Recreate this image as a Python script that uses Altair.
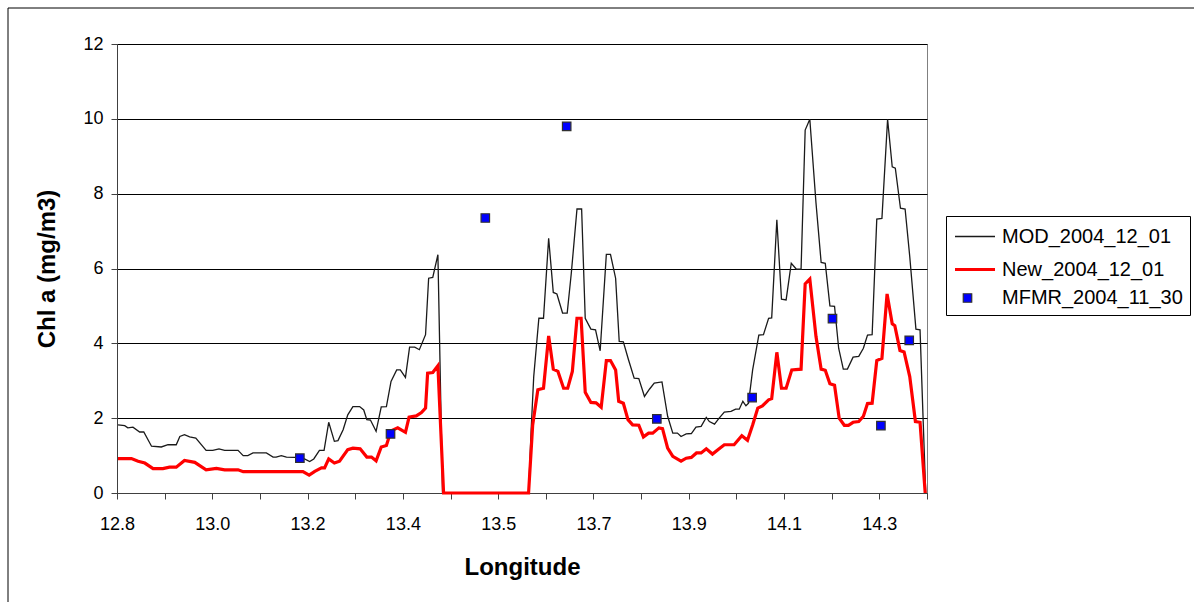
import altair as alt
import pandas as pd

# Chlorophyll-a transect, model runs and MFMR samples
mod_lon = [12.802, 12.815, 12.821, 12.831, 12.844, 12.852, 12.867, 12.886, 12.899, 12.915,
           12.922, 12.931, 12.941, 12.953, 12.973, 12.986, 12.998, 13.009, 13.035, 13.045,
           13.054, 13.064, 13.090, 13.103, 13.109, 13.119, 13.129, 13.145, 13.164, 13.174,
           13.182, 13.193, 13.202, 13.211, 13.222, 13.229, 13.239, 13.248, 13.258, 13.271,
           13.279, 13.285, 13.292, 13.303, 13.313, 13.323, 13.332, 13.343, 13.350, 13.360,
           13.368, 13.378, 13.387, 13.399, 13.405, 13.413, 13.423, 13.432, 13.599, 13.604,
           13.609, 13.619, 13.628, 13.638, 13.647, 13.654, 13.665, 13.674, 13.682, 13.693,
           13.702, 13.709, 13.720, 13.729, 13.738, 13.750, 13.758, 13.768, 13.775, 13.783,
           13.793, 13.804, 13.813, 13.824, 13.834, 13.843, 13.858, 13.869, 13.879, 13.888,
           13.895, 13.905, 13.915, 13.924, 13.934, 13.944, 13.950, 13.960, 13.969, 13.979,
           13.992, 14.001, 14.008, 14.015, 14.021, 14.026, 14.034, 14.046, 14.055, 14.065,
           14.071, 14.081, 14.090, 14.099, 14.109, 14.119, 14.128, 14.136, 14.145, 14.157,
           14.167, 14.175, 14.184, 14.193, 14.201, 14.210, 14.218, 14.229, 14.240, 14.249,
           14.257, 14.266, 14.275, 14.285, 14.296, 14.305, 14.311, 14.321, 14.330, 14.339,
           14.351, 14.359, 14.365, 14.370]
mod_chl = [1.82, 1.80, 1.74, 1.76, 1.63, 1.63, 1.25, 1.23, 1.29, 1.29,
           1.51, 1.56, 1.50, 1.47, 1.14, 1.14, 1.18, 1.14, 1.14, 1.00,
           1.00, 1.07, 1.07, 0.96, 0.96, 1.00, 0.96, 0.95, 0.91, 0.84,
           0.91, 1.14, 1.14, 1.89, 1.38, 1.40, 1.69, 2.09, 2.31, 2.31,
           2.22, 1.96, 1.95, 1.65, 2.30, 2.31, 2.98, 3.29, 3.29, 3.09,
           3.90, 3.90, 3.83, 4.23, 5.74, 5.76, 6.37, 0.00, 0.00, 1.69,
           3.11, 4.67, 4.67, 6.81, 5.36, 5.32, 4.81, 4.81, 5.88, 7.59,
           7.59, 4.67, 4.38, 4.36, 3.80, 6.38, 6.38, 5.74, 4.05, 4.04,
           3.56, 3.07, 3.06, 2.58, 2.78, 2.94, 2.97, 2.05, 1.60, 1.60,
           1.51, 1.58, 1.59, 1.76, 1.78, 2.02, 1.91, 1.84, 2.00, 2.16,
           2.18, 2.24, 2.24, 2.45, 2.33, 2.40, 3.29, 4.22, 4.23, 4.67,
           4.68, 7.30, 5.18, 5.16, 6.14, 5.98, 5.98, 9.70, 9.99, 7.75,
           6.16, 6.14, 5.00, 4.99, 3.87, 3.31, 3.31, 3.63, 3.65, 3.87,
           4.22, 4.23, 7.32, 7.34, 9.99, 8.72, 8.68, 7.61, 7.59, 6.32,
           4.38, 4.36, 1.96, 0.00]

new_lon = [12.802, 12.828, 12.841, 12.854, 12.870, 12.889, 12.902, 12.915, 12.931, 12.951,
           12.973, 12.993, 13.009, 13.035, 13.045, 13.161, 13.173, 13.184, 13.197, 13.203,
           13.211, 13.222, 13.232, 13.248, 13.258, 13.272, 13.285, 13.294, 13.303, 13.313,
           13.323, 13.332, 13.345, 13.360, 13.367, 13.381, 13.391, 13.399, 13.403, 13.413,
           13.423, 13.434, 13.599, 13.607, 13.617, 13.628, 13.638, 13.647, 13.656, 13.667,
           13.675, 13.684, 13.693, 13.701, 13.709, 13.720, 13.730, 13.740, 13.750, 13.758,
           13.768, 13.774, 13.783, 13.792, 13.801, 13.813, 13.822, 13.832, 13.840, 13.852,
           13.859, 13.869, 13.879, 13.895, 13.905, 13.915, 13.925, 13.934, 13.944, 13.956,
           13.969, 13.979, 13.998, 14.013, 14.024, 14.034, 14.044, 14.053, 14.065, 14.071,
           14.081, 14.090, 14.099, 14.110, 14.128, 14.136, 14.145, 14.157, 14.167, 14.175,
           14.184, 14.193, 14.202, 14.212, 14.220, 14.229, 14.240, 14.249, 14.257, 14.266,
           14.275, 14.285, 14.295, 14.305, 14.310, 14.320, 14.328, 14.339, 14.350, 14.359,
           14.369]
new_chl = [0.92, 0.92, 0.85, 0.80, 0.65, 0.65, 0.69, 0.69, 0.87, 0.82,
           0.62, 0.66, 0.62, 0.62, 0.57, 0.57, 0.48, 0.58, 0.67, 0.67,
           0.91, 0.80, 0.85, 1.16, 1.20, 1.18, 0.96, 0.96, 0.86, 1.23,
           1.27, 1.66, 1.74, 1.62, 2.03, 2.06, 2.15, 2.27, 3.20, 3.22,
           3.40, 0.00, 0.00, 1.82, 2.76, 2.80, 4.20, 3.31, 3.25, 2.80,
           2.80, 3.25, 4.67, 4.67, 2.69, 2.42, 2.41, 2.29, 3.54, 3.54,
           3.29, 2.45, 2.40, 1.96, 1.82, 1.81, 1.50, 1.60, 1.60, 1.74,
           1.72, 1.20, 0.98, 0.85, 0.93, 0.95, 1.07, 1.07, 1.18, 1.04,
           1.18, 1.29, 1.29, 1.53, 1.41, 1.82, 2.27, 2.33, 2.49, 2.52,
           3.76, 2.80, 2.80, 3.29, 3.31, 5.59, 5.72, 4.18, 3.31, 3.28,
           2.92, 2.88, 2.00, 1.81, 1.81, 1.89, 1.91, 2.05, 2.39, 2.40,
           3.54, 3.60, 5.32, 4.52, 4.47, 3.81, 3.77, 3.11, 1.91, 1.89,
           0.00]

mfmr_lon = [13.155, 13.331, 13.515, 13.673, 13.848, 14.033, 14.189, 14.283, 14.338]
mfmr_chl = [0.93, 1.58, 7.35, 9.80, 1.98, 2.55, 4.66, 1.80, 4.08]

SERIES = ["MOD_2004_12_01", "New_2004_12_01", "MFMR_2004_11_30"]

# x axis: ticks every 0.0925 degrees, labelled on every second tick
X_MIN = 12.8
X_STEP = 0.0925
x_ticks = [round(X_MIN + i * X_STEP, 4) for i in range(18)]
X_MAX = x_ticks[-1]
y_ticks = [0, 2, 4, 6, 8, 10, 12]

mod_df = pd.DataFrame({"lon": mod_lon, "chl": mod_chl, "series": SERIES[0]})
new_df = pd.DataFrame({"lon": new_lon, "chl": new_chl, "series": SERIES[1]})
pts_df = pd.DataFrame({"lon": mfmr_lon, "chl": mfmr_chl, "series": SERIES[2]})

FONT = "Liberation Sans"

x_enc = alt.X(
    "lon:Q",
    scale=alt.Scale(domain=[X_MIN, X_MAX], nice=False, zero=False),
    axis=alt.Axis(
        values=x_ticks,
        labelExpr=f"round((datum.value - {X_MIN}) / {X_STEP}) % 2 == 0 ? format(datum.value, '.1f') : ''",
        grid=False,
        tickSize=6,
        labelPadding=16,
        titlePadding=22,
        labelFlush=False,
        labelOverlap=False,
    ),
    title="Longitude",
)
y_enc = alt.Y(
    "chl:Q",
    scale=alt.Scale(domain=[0, 12], nice=False),
    axis=alt.Axis(
        values=y_ticks,
        grid=True,
        tickSize=6,
        labelPadding=8,
        titlePadding=23,
    ),
    title="Chl a (mg/m3)",
)

legend = alt.Legend(
    title=None,
    orient="none",
    legendX=829,
    legendY=172,
    labelLimit=400,
)

# line entries use a short horizontal path; the sample series uses a square
LINE_GLYPH = "M-1,0H2.2"
stroke_scale = alt.Scale(domain=SERIES, range=["#1a1a1a", "#ff0000", "#303030"])
width_scale = alt.Scale(type="ordinal", domain=SERIES, range=[1.3, 3.2, 1.2])
fill_scale = alt.Scale(domain=SERIES, range=["#1a1a1a", "#ff0000", "#0000ff"])
shape_scale = alt.Scale(domain=SERIES, range=[LINE_GLYPH, LINE_GLYPH, "square"])
size_scale = alt.Scale(type="ordinal", domain=SERIES, range=[625, 625, 72])


def line_layer(df):
    return alt.Chart(df).mark_line(interpolate="linear").encode(
        x=x_enc,
        y=y_enc,
        stroke=alt.Stroke("series:N", scale=stroke_scale, legend=legend),
        strokeWidth=alt.StrokeWidth("series:N", scale=width_scale, legend=legend),
    )


points = alt.Chart(pts_df).mark_point(filled=True, opacity=1).encode(
    x=x_enc,
    y=y_enc,
    fill=alt.Fill("series:N", scale=fill_scale, legend=legend),
    stroke=alt.Stroke("series:N", scale=stroke_scale, legend=legend),
    strokeWidth=alt.StrokeWidth("series:N", scale=width_scale, legend=legend),
    shape=alt.Shape("series:N", scale=shape_scale, legend=legend),
    size=alt.Size("series:N", scale=size_scale, legend=legend),
)

# thin frame along the top and left edges of the figure
frame_src = pd.DataFrame({"k": [0]})
frame_top = alt.Chart(frame_src).mark_rule(color="#000000", strokeWidth=1).encode(
    x=alt.value(-109), x2=alt.value(1100), y=alt.value(-36)
)
frame_left = alt.Chart(frame_src).mark_rule(color="#000000", strokeWidth=1).encode(
    x=alt.value(-109), y=alt.value(-36), y2=alt.value(600)
)

chart = (
    alt.layer(line_layer(mod_df), line_layer(new_df), points, frame_top, frame_left)
    .properties(
        width=810,
        height=449,
        autosize=alt.AutoSizeParams(type="none"),
        padding={"left": 117, "top": 44, "right": 267, "bottom": 109},
        background="#ffffff",
    )
    .configure_view(stroke="#808080", strokeWidth=1)
    .configure_axis(
        labelFont=FONT,
        labelFontSize=18,
        labelColor="#000000",
        titleFont=FONT,
        titleFontSize=24,
        titleFontWeight="bold",
        titleColor="#000000",
        domainColor="#404040",
        domainWidth=1,
        tickColor="#404040",
        tickWidth=1,
        gridColor="#000000",
        gridWidth=1,
        gridOpacity=1,
    )
    .configure_legend(
        labelFont=FONT,
        labelFontSize=20,
        labelColor="#000000",
        labelLimit=400,
        strokeColor="#000000",
        fillColor="#ffffff",
        padding=7,
        rowPadding=8,
        labelOffset=20,
        symbolOpacity=1,
    )
)

chart.save("out.html", embed_options={"renderer": "svg", "actions": False})
